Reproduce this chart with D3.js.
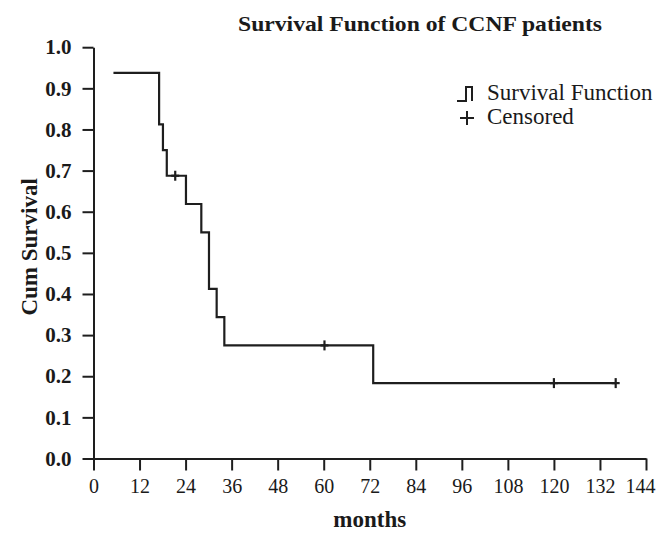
<!DOCTYPE html>
<html>
<head>
<meta charset="utf-8">
<script src="https://cdn.jsdelivr.net/npm/d3@7"></script>
<style>
  body { margin: 0; background: #fff; }
  svg { display: block; }
  text { font-family: "Liberation Serif", "Times New Roman", serif; fill: #1a1a1a; }
</style>
</head>
<body>
<svg id="chart"></svg>
<script>
// Kaplan-Meier curve
const stepTimes = [5.2, 17.1, 18.1, 19.1, 24.1, 28.1, 30.1, 32.1, 34.1, 72.9];
const stepSurv = [0.9375, 0.8125, 0.75, 0.6875, 0.6188, 0.55, 0.4125, 0.3438, 0.275, 0.1833];
const lastTime = 136.1;

const censorTimes = [21.3, 60.2, 120.0, 136.1];
const censorSurv = [0.6875, 0.275, 0.1833, 0.1833];

const xTicks = [0, 12, 24, 36, 48, 60, 72, 84, 96, 108, 120, 132, 144];
const yTicks = [0, 0.1, 0.2, 0.3, 0.4, 0.5, 0.6, 0.7, 0.8, 0.9, 1.0];

let width = 656, height = 533;
const ink = "#1e1e1e";

let svg = d3.select("#chart").attr("width", width).attr("height", height);

let x = d3.scaleLinear().domain([0, 144]).range([93.5, 646]);
let y = d3.scaleLinear().domain([0, 1]).range([458.5, 47.2]);

// axes
let gx = svg.append("g")
  .attr("transform", `translate(0,${y(0)})`)
  .call(d3.axisBottom(x).tickValues(xTicks).tickSize(12).tickSizeOuter(0).tickPadding(8));

let gy = svg.append("g")
  .attr("transform", `translate(${x(0)},0)`)
  .call(d3.axisLeft(y).tickValues(yTicks).tickFormat(d3.format(".1f")).tickSize(11).tickSizeOuter(0).tickPadding(11));

svg.selectAll(".domain, .tick line").attr("stroke", ink).attr("stroke-width", 2);
gx.selectAll("text").attr("font-size", 20).attr("font-family", "Liberation Serif").attr("fill", "#1a1a1a");
gy.selectAll("text").attr("font-size", 21).attr("font-weight", "bold").attr("font-family", "Liberation Serif").attr("fill", "#1a1a1a");
// last label sits against the right edge
gx.selectAll(".tick text").filter(d => d == 144).attr("text-anchor", "end").attr("x", 9);

// survival step line
let pts = stepTimes.map((t, i) => [t, stepSurv[i]]);
pts.push([lastTime, stepSurv[stepSurv.length - 1]]);

let line = d3.line().x(d => x(d[0])).y(d => y(d[1])).curve(d3.curveStepAfter);

svg.append("path")
  .attr("d", line(pts))
  .attr("fill", "none")
  .attr("stroke", ink)
  .attr("stroke-width", 2.2);

// censor marks
let cens = svg.selectAll(".cens")
  .data(censorTimes.map((t, i) => [t, censorSurv[i]]))
  .enter().append("g")
  .attr("transform", d => `translate(${x(d[0])},${y(d[1])})`);
cens.append("line").attr("x1", 0).attr("x2", 0).attr("y1", -5).attr("y2", 5)
  .attr("stroke", ink).attr("stroke-width", 2.2);
cens.append("line").attr("x1", -4).attr("x2", 4).attr("y1", 0).attr("y2", 0)
  .attr("stroke", ink).attr("stroke-width", 2.2);

// title + axis labels
svg.append("text")
  .attr("x", 420).attr("y", 31)
  .attr("text-anchor", "middle")
  .attr("font-size", 22).attr("font-weight", "bold")
  .attr("textLength", 364).attr("lengthAdjust", "spacingAndGlyphs")
  .text("Survival Function of CCNF patients");

svg.append("text")
  .attr("transform", `translate(37,${(y(0) + y(1)) / 2 - 6}) rotate(-90)`)
  .attr("text-anchor", "middle")
  .attr("font-size", 23).attr("font-weight", "bold")
  .text("Cum Survival");

svg.append("text")
  .attr("x", (x(0) + x(144)) / 2).attr("y", 527)
  .attr("text-anchor", "middle")
  .attr("font-size", 23).attr("font-weight", "bold")
  .text("months");

// legend
let lg = svg.append("g").attr("transform", "translate(457,0)");
lg.append("path")
  .attr("d", "M0,101H9V87H15V101")
  .attr("fill", "none").attr("stroke", ink).attr("stroke-width", 2);
lg.append("text").attr("x", 30).attr("y", 100).attr("font-size", 23).text("Survival Function");
lg.append("line").attr("x1", 3).attr("x2", 17).attr("y1", 118).attr("y2", 118).attr("stroke", ink).attr("stroke-width", 2);
lg.append("line").attr("x1", 10).attr("x2", 10).attr("y1", 111).attr("y2", 125).attr("stroke", ink).attr("stroke-width", 2);
lg.append("text").attr("x", 30).attr("y", 124).attr("font-size", 23).text("Censored");
</script>
</body>
</html>
